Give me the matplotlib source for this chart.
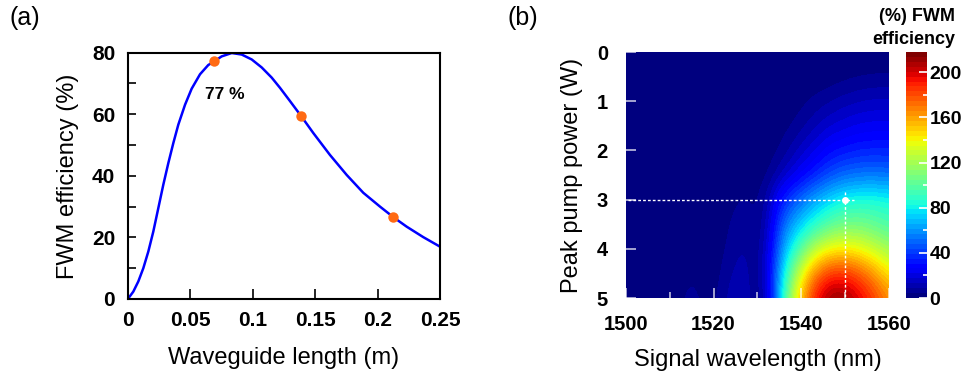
import numpy as np
import matplotlib
matplotlib.use("Agg")
import matplotlib.pyplot as plt
from matplotlib.ticker import MultipleLocator, FixedLocator

plt.rcParams['font.family'] = ['Liberation Sans', 'DejaVu Sans']

# ---------------- data: panel (a) ----------------
length_m = [0.0, 0.0005, 0.0045, 0.0085, 0.0125, 0.0165, 0.0205, 0.0245, 0.0285,
            0.0325, 0.0365, 0.0405, 0.0459, 0.0512, 0.0579, 0.0645, 0.0693, 0.0752,
            0.0833, 0.0913, 0.0993, 0.1073, 0.1153, 0.1219, 0.1299, 0.1387, 0.1486,
            0.1619, 0.1753, 0.1886, 0.2020, 0.2126, 0.2233, 0.2366, 0.2500]
efficiency_pct = [0.0, 0.2, 2.4, 5.7, 10.0, 15.4, 21.9, 29.5, 37.1,
                  44.1, 50.6, 56.6, 63.1, 68.3, 73.0, 76.0, 77.2, 78.8,
                  79.9, 79.4, 77.8, 75.2, 71.9, 68.6, 64.3, 59.5, 53.9,
                  46.8, 40.3, 34.5, 30.0, 26.6, 23.5, 20.1, 17.0]
marker_len = [0.0693, 0.1387, 0.2126]
marker_eff = [77.2, 59.5, 26.6]
annot_text = "77 %"

# ---------------- data: panel (b) ----------------
wavelength_nm = [1500, 1502.5, 1505, 1507.5, 1510, 1512.5, 1515, 1517.5, 1520, 1522.5,
                 1525, 1527.5, 1530, 1532.5, 1535, 1537.5, 1540, 1542.5, 1545, 1547.5,
                 1550, 1552.5, 1555, 1557.5, 1560]
pump_power_w = [0, 0.5, 1, 1.5, 2, 2.5, 3, 3.5, 4, 4.5, 5]
fwm_map = [
    # P = 0
    [0]*25,
    # P = 0.5
    [0, 0, 0, 0, 0, 0, 0, 0, 0, 0, 0, 0, 0, 0, 0, 0, 0.2, 0.6, 1.0, 1.6, 2.6, 3.4, 4.0, 4.4, 4.4],
    # P = 1
    [0, 0, 0, 0, 0, 0, 0, 0, 0, 0, 0, 0, 0, 0.2, 0.5, 1, 3, 5, 7, 9, 11, 12.5, 13.5, 14, 14],
    # P = 1.5
    [0, 0, 0, 0, 0, 0, 0, 0, 0, 0, 0, 0, 0.2, 0.5, 2, 4, 7, 11, 15, 18, 20, 22, 23, 23.5, 23.5],
    # P = 2
    [0, 0, 0, 0, 0, 0, 0, 0, 0, 0, 0.3, 0.5, 0.5, 2, 4.5, 9, 15, 20, 26, 30, 32, 34, 35, 35, 35],
    # P = 2.5
    [0, 0, 0, 0, 0, 0, 0, 0, 0, 0.3, 1, 1.5, 2, 4, 11, 19, 26, 33, 40, 46, 50, 52, 53, 53, 52],
    # P = 3
    [0, 0, 0, 0, 0, 0, 0.3, 0.5, 0.5, 1.5, 4, 5, 3, 12, 30, 42, 52, 62, 70, 77, 82, 84, 85, 84, 82],
    # P = 3.5
    [0, 0, 0, 0, 0, 0.3, 0.5, 0.5, 1, 3, 6, 7, 4, 16, 42, 60, 72, 83, 93, 101, 105, 106, 104, 100, 96],
    # P = 4
    [0, 0, 0, 0.3, 0.5, 0.8, 1, 1, 1.5, 4, 8, 9, 5, 20, 52, 78, 100, 121, 134, 141, 142, 139, 133, 126, 118],
    # P = 4.5
    [0, 0, 0.5, 0.8, 1, 2, 4, 2, 2, 6, 10, 10, 5, 24, 62, 102, 135, 162, 179, 186, 186, 180, 170, 158, 145],
    # P = 5
    [0.5, 0.8, 1, 1.5, 2, 4, 6, 4, 3, 8, 13, 12, 3, 20, 68, 118, 155, 185, 205, 215, 212, 203, 192, 180, 166],
]
cbar_ticks = [0, 40, 80, 120, 160, 200]
op_wavelength = 1550
op_power = 3

# ---------------- figure ----------------
fig = plt.figure(figsize=(9.63, 3.77), dpi=100)

TICK_FS = 15
LABEL_FS = 17

# panel (a)
ax1 = fig.add_axes([0.1326, 0.2069, 0.3243, 0.6533])
ax1.plot(length_m, efficiency_pct, color='#0000ff', lw=1.8, zorder=2)
ax1.plot(marker_len, marker_eff, 'o', color='#ff6a13', ms=7.5, mec='none', zorder=3)
ax1.text(0.0622, 66.5, annot_text, fontsize=12.5, fontweight='bold', va='center', ha='left')
ax1.set_xlim(0, 0.25)
ax1.set_ylim(0, 80)
ax1.xaxis.set_major_locator(FixedLocator([0, 0.05, 0.1, 0.15, 0.2, 0.25]))
ax1.set_xticklabels(['0', '0.05', '0.1', '0.15', '0.2', '0.25'])
ax1.yaxis.set_major_locator(MultipleLocator(20))
ax1.yaxis.set_minor_locator(MultipleLocator(10))
ax1.tick_params(axis='both', which='both', direction='in', top=False, right=False,
                labelsize=TICK_FS, width=1.2)
ax1.tick_params(axis='x', which='major', length=7, pad=9)
ax1.tick_params(axis='y', which='major', length=6, pad=9)
ax1.tick_params(axis='y', which='minor', length=6)
for lab in ax1.get_xticklabels() + ax1.get_yticklabels():
    lab.set_fontweight('bold')
for sp in ax1.spines.values():
    sp.set_linewidth(1.5)
ax1.set_xlabel('Waveguide length (m)', fontsize=LABEL_FS, labelpad=12)
ax1.set_ylabel('FWM efficiency (%)', fontsize=LABEL_FS, labelpad=9)
fig.text(0.010, 0.952, '(a)', fontsize=18, va='center', ha='left')

# panel (b)
ax2 = fig.add_axes([0.650, 0.2095, 0.2731, 0.6525])
data = np.array(fwm_map, dtype=float)
dx = (wavelength_nm[1] - wavelength_nm[0]) / 2
dy = (pump_power_w[1] - pump_power_w[0]) / 2
cmap = plt.get_cmap('jet', 50)
im = ax2.imshow(data, cmap=cmap, vmin=0, vmax=218, aspect='auto', origin='upper',
                interpolation='bicubic', interpolation_stage='data',
                extent=[wavelength_nm[0] - dx, wavelength_nm[-1] + dx,
                        pump_power_w[-1] + dy, pump_power_w[0] - dy])
ax2.set_xlim(wavelength_nm[0], wavelength_nm[-1])
ax2.set_ylim(pump_power_w[-1], pump_power_w[0])
ax2.plot([1500.5, 1552], [op_power, op_power], ls=(0, (2, 1.5)), color='white', lw=1.0)
ax2.plot([op_wavelength, op_wavelength], [2.85, 5], ls=(0, (2, 1.5)), color='white', lw=1.0)
ax2.plot([op_wavelength], [op_power], 'o', color='white', ms=5, mec='none')
ax2.xaxis.set_major_locator(MultipleLocator(20))
ax2.xaxis.set_minor_locator(MultipleLocator(10))
ax2.yaxis.set_major_locator(MultipleLocator(1))
ax2.tick_params(axis='both', which='both', direction='in', top=False, right=False,
                color=(1, 1, 1, 0.75), labelsize=14.5, width=1.2)
ax2.tick_params(axis='x', which='major', length=7, pad=12)
ax2.tick_params(axis='x', which='minor', length=4)
ax2.tick_params(axis='y', which='major', length=7, pad=13)
for lab in ax2.get_xticklabels() + ax2.get_yticklabels():
    lab.set_fontweight('bold')
for sp in ax2.spines.values():
    sp.set_visible(False)
ax2.set_xlabel('Signal wavelength (nm)', fontsize=LABEL_FS, labelpad=11)
ax2.set_ylabel('Peak pump power (W)', fontsize=LABEL_FS, labelpad=10)
fig.text(0.527, 0.952, '(b)', fontsize=18, va='center', ha='left')

# colorbar
cax = fig.add_axes([0.9408, 0.2095, 0.0215, 0.6525])
cb = fig.colorbar(im, cax=cax)
cb.outline.set_visible(False)
cb.set_ticks(cbar_ticks)
cax.yaxis.set_minor_locator(MultipleLocator(20))
cax.tick_params(axis='y', which='both', direction='in', color='white', labelsize=14, pad=2, width=1.2)
cax.tick_params(axis='y', which='major', length=6)
cax.tick_params(axis='y', which='minor', length=3)
for lab in cax.get_yticklabels():
    lab.set_fontweight('bold')
fig.text(0.992, 0.955, '(%) FWM', fontsize=13, fontweight='bold', ha='right', va='center')
fig.text(0.992, 0.895, 'efficiency', fontsize=13, fontweight='bold', ha='right', va='center')

fig.savefig('out.png', dpi=100)
